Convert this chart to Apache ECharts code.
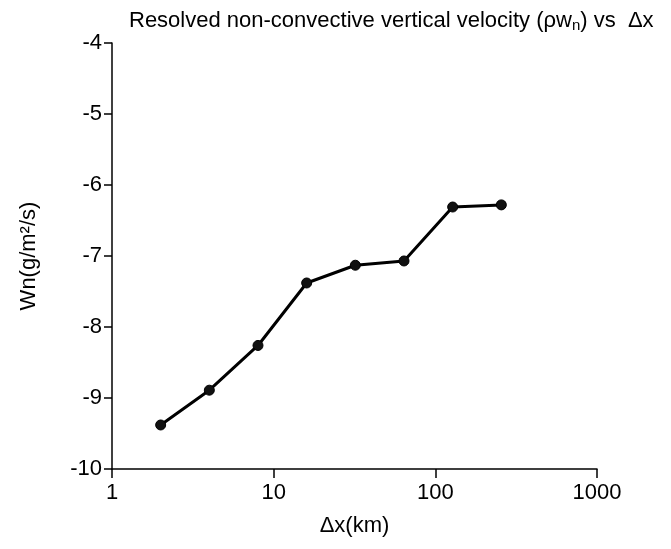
<!DOCTYPE html>
<html>
<head>
<meta charset="utf-8">
<script src="https://cdn.jsdelivr.net/npm/echarts@6/dist/echarts.min.js"></script>
<style>html,body{margin:0;padding:0;background:#fff}#c{width:671px;height:549px}</style>
</head>
<body>
<div id="c"></div>
<script>
const dxKm = [2, 4, 8, 16, 32, 64, 128, 256];
const wnValues = [-9.38, -8.89, -8.26, -7.38, -7.13, -7.07, -6.31, -6.28];
const xTicks = [1, 10, 100, 1000];
const yTicks = [-10, -9, -8, -7, -6, -5, -4];

const chart = echarts.init(document.getElementById('c'));
const font = 'Liberation Sans, Arial, Helvetica, sans-serif';
chart.setOption({
  animation: false,
  backgroundColor: '#fff',
  title: {
    text: 'Resolved non-convective vertical velocity (ρw{sub|n}) vs  Δx',
    left: 124, top: 4,
    textStyle: {
      fontFamily: font, fontSize: 22, fontWeight: 'normal', color: '#000',
      rich: { sub: { fontFamily: font, fontSize: 15, color: '#000', verticalAlign: 'bottom', padding: [9, 0, 0, 0] } }
    }
  },
  grid: { left: 112, right: 74, top: 43, bottom: 80, containLabel: false },
  xAxis: {
    type: 'log', logBase: 10, min: xTicks[0], max: xTicks[xTicks.length - 1],
    name: 'Δx(km)', nameLocation: 'middle', nameGap: 46,
    nameTextStyle: { fontFamily: font, fontSize: 22, color: '#000' },
    axisLine: { lineStyle: { color: '#000', width: 1.5 } },
    axisTick: { show: true, inside: false, length: 9, lineStyle: { color: '#000', width: 1.5 } },
    minorTick: { show: false },
    splitLine: { show: false },
    axisLabel: { fontFamily: font, fontSize: 22, color: '#000', margin: 13,
      formatter: v => String(Math.round(v)) }
  },
  yAxis: {
    type: 'value', min: yTicks[0], max: yTicks[yTicks.length - 1], interval: 1,
    name: 'Wn(g/m²/s)', nameLocation: 'middle', nameGap: 72,
    nameTextStyle: { fontFamily: font, fontSize: 22, color: '#000' },
    axisLine: { show: true, lineStyle: { color: '#000', width: 1.5 } },
    axisTick: { show: true, inside: false, length: 8, lineStyle: { color: '#000', width: 1.5 } },
    splitLine: { show: false },
    axisLabel: { fontFamily: font, fontSize: 22, color: '#000', margin: 10 }
  },
  series: [{
    type: 'line',
    data: dxKm.map((x, i) => [x, wnValues[i]]),
    symbol: 'circle', symbolSize: 10,
    lineStyle: { color: '#000', width: 3 },
    itemStyle: { color: '#111', borderColor: '#000', borderWidth: 1 }
  }]
});
</script>
</body>
</html>
